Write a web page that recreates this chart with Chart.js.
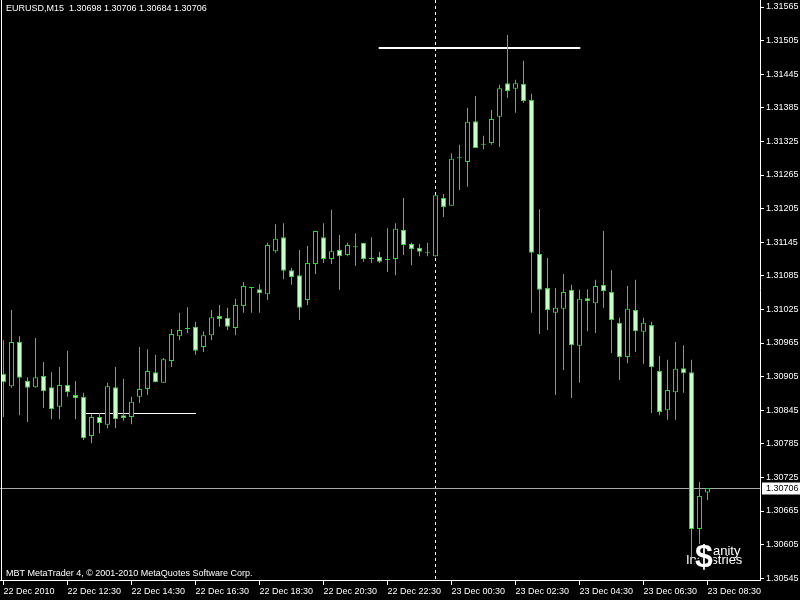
<!DOCTYPE html>
<html>
<head>
<meta charset="utf-8">
<script src="https://cdn.jsdelivr.net/npm/chart.js@4.4.1/dist/chart.umd.min.js"></script>
<style>
  html, body { margin: 0; padding: 0; background: #000; }
  #wrap { width: 800px; height: 600px; }
</style>
</head>
<body>
<div id="wrap"><canvas id="chart" width="800" height="600"></canvas></div>
<script>
// EURUSD M15, 22 Dec 2010 10:30 -> 23 Dec 2010 08:30 (one entry per bar)
const symbol = 'EURUSD';
const period = 'M15';

const opens = [
  1.30910, 1.30888, 1.30967, 1.30897, 1.30886, 1.30906, 1.30886, 1.30851, 1.30890, 1.30872,
  1.30869, 1.30799, 1.30833, 1.30819, 1.30886, 1.30836, 1.30833, 1.30869, 1.30883, 1.30913,
  1.30894, 1.30933, 1.30977, 1.30992, 1.30994, 1.30958, 1.30979, 1.31013, 1.31010, 1.30992,
  1.31031, 1.31063, 1.31061, 1.31052, 1.31129, 1.31154, 1.31095, 1.31086, 1.31042, 1.31106,
  1.31154, 1.31115, 1.31131, 1.31122, 1.31136, 1.31144, 1.31115, 1.31119, 1.31113, 1.31115,
  1.31167, 1.31142, 1.31135, 1.31126, 1.31120, 1.31224, 1.31210, 1.31295, 1.31288, 1.31361,
  1.31319, 1.31322, 1.31369, 1.31429, 1.31419, 1.31428, 1.31399, 1.31124, 1.31063, 1.31019,
  1.31026, 1.31060, 1.30960, 1.31045, 1.31036, 1.31069, 1.31056, 1.31001, 1.30940, 1.31024,
  1.30985, 1.30997, 1.30915, 1.30845, 1.30877, 1.30920, 1.30913, 1.30633, 1.30698
];
const highs = [
  1.30970, 1.31024, 1.30977, 1.30904, 1.30974, 1.30931, 1.30913, 1.30922, 1.30951, 1.30897,
  1.30876, 1.30838, 1.30840, 1.30894, 1.30922, 1.30901, 1.30869, 1.30958, 1.30954, 1.30944,
  1.30938, 1.30990, 1.31019, 1.31029, 1.31003, 1.30986, 1.31024, 1.31033, 1.31028, 1.31044,
  1.31074, 1.31065, 1.31070, 1.31144, 1.31177, 1.31179, 1.31099, 1.31131, 1.31138, 1.31165,
  1.31179, 1.31203, 1.31158, 1.31144, 1.31161, 1.31144, 1.31154, 1.31128, 1.31170, 1.31179,
  1.31224, 1.31144, 1.31142, 1.31144, 1.31229, 1.31231, 1.31304, 1.31319, 1.31385, 1.31406,
  1.31335, 1.31381, 1.31426, 1.31515, 1.31435, 1.31469, 1.31410, 1.31204, 1.31117, 1.31063,
  1.31088, 1.31069, 1.31060, 1.31061, 1.31078, 1.31165, 1.31095, 1.31010, 1.31067, 1.31078,
  1.31010, 1.31003, 1.30942, 1.30935, 1.30967, 1.30961, 1.30935, 1.30717, 1.30706
];
const lows = [
  1.30833, 1.30885, 1.30836, 1.30824, 1.30885, 1.30849, 1.30829, 1.30829, 1.30869, 1.30829,
  1.30792, 1.30786, 1.30804, 1.30813, 1.30813, 1.30826, 1.30820, 1.30858, 1.30872, 1.30895,
  1.30894, 1.30922, 1.30970, 1.30983, 1.30944, 1.30949, 1.30970, 1.30994, 1.30988, 1.30979,
  1.31019, 1.31019, 1.31019, 1.31042, 1.31126, 1.31079, 1.31069, 1.31006, 1.31033, 1.31088,
  1.31108, 1.31106, 1.31060, 1.31120, 1.31103, 1.31110, 1.31108, 1.31108, 1.31092, 1.31086,
  1.31122, 1.31104, 1.31120, 1.31120, 1.31119, 1.31190, 1.31210, 1.31238, 1.31244, 1.31313,
  1.31311, 1.31319, 1.31315, 1.31403, 1.31376, 1.31394, 1.31019, 1.30981, 1.30988, 1.30872,
  1.30917, 1.30867, 1.30894, 1.30986, 1.30983, 1.31028, 1.30947, 1.30899, 1.30929, 1.30949,
  1.30928, 1.30840, 1.30836, 1.30828, 1.30828, 1.30876, 1.30583, 1.30583, 1.30684
];
const closes = [
  1.30895, 1.30967, 1.30903, 1.30885, 1.30904, 1.30879, 1.30847, 1.30890, 1.30877, 1.30867,
  1.30795, 1.30833, 1.30822, 1.30888, 1.30829, 1.30831, 1.30860, 1.30883, 1.30915, 1.30895,
  1.30936, 1.30981, 1.30988, 1.30990, 1.30951, 1.30979, 1.31011, 1.31008, 1.30994, 1.31033,
  1.31067, 1.31063, 1.31054, 1.31140, 1.31151, 1.31094, 1.31083, 1.31028, 1.31108, 1.31165,
  1.31115, 1.31129, 1.31120, 1.31140, 1.31136, 1.31115, 1.31115, 1.31110, 1.31113, 1.31169,
  1.31140, 1.31133, 1.31128, 1.31126, 1.31229, 1.31208, 1.31294, 1.31295, 1.31360, 1.31313,
  1.31319, 1.31365, 1.31420, 1.31415, 1.31429, 1.31397, 1.31126, 1.31060, 1.31024, 1.31028,
  1.31056, 1.30961, 1.31044, 1.31040, 1.31067, 1.31058, 1.31006, 1.30940, 1.31026, 1.30986,
  1.31001, 1.30922, 1.30842, 1.30881, 1.30919, 1.30911, 1.30633, 1.30692, 1.30706
];

// time axis labels, one every 8 bars (2 hours)
const timeLabels = [
  '22 Dec 2010', '22 Dec 12:30', '22 Dec 14:30', '22 Dec 16:30', '22 Dec 18:30', '22 Dec 20:30',
  '22 Dec 22:30', '23 Dec 00:30', '23 Dec 02:30', '23 Dec 04:30', '23 Dec 06:30', '23 Dec 08:30'
];
const labelBars = timeLabels.map((_, i) => i * 8);

// price axis labels
const priceTicks = [
  1.30545, 1.30605, 1.30665, 1.30725, 1.30785, 1.30845, 1.30905, 1.30965, 1.31025,
  1.31085, 1.31145, 1.31205, 1.31265, 1.31325, 1.31385, 1.31445, 1.31505, 1.31565
];
const priceMin = 1.305418;
const priceMax = 1.315775;

// drawn objects: day separator, two horizontal levels, bid line
const separatorBar = 54;               // 23 Dec 00:00
const levelPrices = [1.31491, 1.30840];
const levelFrom = [46.9, 10.06];
const levelTo = [72.1, 24.06];
const levelWidths = [2, 1];
const lastIdx = closes.length - 1;
const bidPrice = closes[lastIdx];

const GREEN = '#2fd62f';
const BEAR_FILL = '#c8ffc8';
const FONT = '"Liberation Sans", Arial, sans-serif';

// no label overhang padding, the plot area has to fill 0..760 x 0..580
function noPad(s) {
  s.paddingTop = 0;
  s.paddingBottom = 0;
  s.paddingLeft = 0;
  s.paddingRight = 0;
}

// overlays that MT4 draws on top of / behind the bars
const overlay = {
  id: 'overlay',
  beforeDatasetsDraw(chart) {
    const { ctx, chartArea: a, scales: { x, y } } = chart;
    ctx.save();
    // period separator
    ctx.strokeStyle = '#ffffff';
    ctx.lineWidth = 1;
    ctx.setLineDash([3, 3]);
    const sx = Math.floor(x.getPixelForValue(separatorBar)) + 0.5;
    ctx.beginPath();
    ctx.moveTo(sx, a.top);
    ctx.lineTo(sx, a.bottom);
    ctx.stroke();
    ctx.setLineDash([]);

    // bid line
    const by = Math.floor(y.getPixelForValue(bidPrice)) + 0.5;
    ctx.strokeStyle = '#a8a8a8';
    ctx.beginPath();
    ctx.moveTo(a.left, by);
    ctx.lineTo(a.right, by);
    ctx.stroke();

    // horizontal level lines
    ctx.strokeStyle = '#ffffff';
    levelPrices.forEach((p, i) => {
      ctx.lineWidth = levelWidths[i];
      const ly = Math.round(y.getPixelForValue(p)) + (levelWidths[i] % 2 ? 0.5 : 0);
      ctx.beginPath();
      ctx.moveTo(x.getPixelForValue(levelFrom[i]), ly);
      ctx.lineTo(x.getPixelForValue(levelTo[i]), ly);
      ctx.stroke();
    });
    ctx.restore();
  },
  afterDraw(chart) {
    const { ctx, chartArea: a, scales: { y } } = chart;
    ctx.save();
    // left frame
    ctx.strokeStyle = '#ffffff';
    ctx.lineWidth = 1;
    ctx.beginPath();
    ctx.moveTo(1.5, a.top);
    ctx.lineTo(1.5, a.bottom);
    ctx.stroke();

    // bid label on the price axis
    const by = Math.floor(y.getPixelForValue(bidPrice)) + 0.5;
    ctx.fillStyle = '#ffffff';
    ctx.fillRect(a.right + 2, by - 6, 38, 12);
    ctx.fillStyle = '#000000';
    ctx.font = '9px ' + FONT;
    ctx.textBaseline = 'middle';
    ctx.fillText(bidPrice.toFixed(5), a.right + 6, by);

    // header and footer text
    ctx.fillStyle = '#ffffff';
    const head = symbol + ',' + period + '  ' + [opens[lastIdx], highs[lastIdx], lows[lastIdx], closes[lastIdx]]
      .map(v => v.toFixed(5)).join(' ');
    ctx.fillText(head, 6, 9);
    ctx.fillText('MBT MetaTrader 4, \u00a9 2001-2010 MetaQuotes Software Corp.', 6, 574);

    // logo
    ctx.font = '13px ' + FONT;
    ctx.textBaseline = 'alphabetic';
    ctx.fillText('anity', 713, 555);
    ctx.fillText('Industries', 686, 564);
    ctx.font = 'bold 32px ' + FONT;
    ctx.lineWidth = 3;
    ctx.strokeStyle = '#000000';
    ctx.strokeText('$', 695, 567);
    ctx.fillText('$', 695, 567);
    ctx.restore();
  }
};

const ctx = document.getElementById('chart').getContext('2d');
const chart = new Chart(ctx, {
  type: 'bar',
  data: {
    datasets: [
      {
        label: 'body',
        data: opens.map((o, i) => ({ x: i, y: [o, closes[i]] })),
        backgroundColor: opens.map((o, i) => closes[i] >= o ? '#000000' : BEAR_FILL),
        borderColor: GREEN,
        borderWidth: 1,
        borderSkipped: false,
        inflateAmount: 0,
        grouped: false,
        maxBarThickness: 5,
        minBarLength: 1
      },
      {
        label: 'wick',
        data: highs.map((h, i) => ({ x: i, y: [lows[i], h] })),
        backgroundColor: GREEN,
        borderWidth: 0,
        inflateAmount: 0,
        grouped: false,
        maxBarThickness: 1
      }
    ]
  },
  options: {
    responsive: false,
    animation: false,
    devicePixelRatio: 1,
    layout: { padding: 0 },
    plugins: {
      legend: { display: false },
      tooltip: { enabled: false }
    },
    scales: {
      x: {
        type: 'linear',
        offset: false,
        min: -0.4375,
        max: 94.5625,
        afterBuildTicks: s => { s.ticks = labelBars.map(v => ({ value: v })); },
        afterFit: s => { s.height = 20; noPad(s); },
        grid: { offset: false, drawOnChartArea: false, tickLength: 5, color: '#ffffff' },
        border: { color: '#ffffff' },
        ticks: {
          color: '#ffffff',
          font: { family: FONT, size: 9 },
          align: 'start',
          autoSkip: false,
          maxRotation: 0,
          minRotation: 0,
          padding: 1,
          callback: (v, i) => timeLabels[i]
        }
      },
      y: {
        position: 'right',
        min: priceMin,
        max: priceMax,
        beginAtZero: false,
        afterBuildTicks: s => { s.ticks = priceTicks.map(v => ({ value: v })); },
        afterFit: s => { s.width = 40; noPad(s); },
        grid: { drawOnChartArea: false, tickLength: 4, color: '#ffffff' },
        border: { color: '#ffffff' },
        ticks: {
          color: '#ffffff',
          font: { family: FONT, size: 9 },
          padding: 2,
          callback: v => v.toFixed(5)
        }
      }
    }
  },
  plugins: [overlay]
});
</script>
</body>
</html>
